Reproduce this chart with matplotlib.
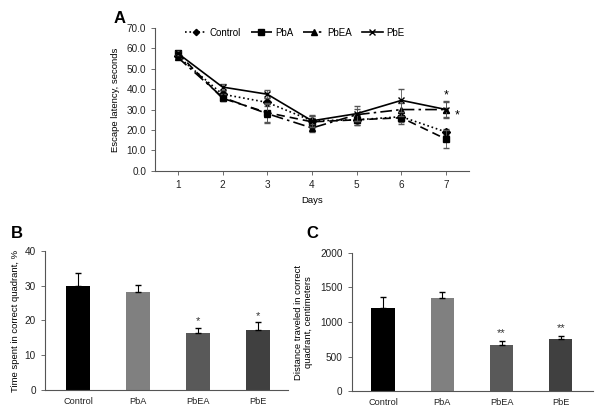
import matplotlib.pyplot as plt
import numpy as np

plt.rcParams['font.family'] = ['Liberation Sans', 'DejaVu Sans']

days = [1, 2, 3, 4, 5, 6, 7]
groups = ['Control', 'PbA', 'PbEA', 'PbE']

# escape latency (s) per day
latency = {
    'Control': [56.0, 37.5, 33.5, 24.5, 25.0, 26.5, 19.0],
    'PbA': [57.5, 35.5, 28.5, 24.0, 25.0, 26.0, 15.5],
    'PbEA': [55.5, 36.0, 28.0, 21.0, 27.5, 30.0, 30.0],
    'PbE': [57.5, 41.0, 37.5, 24.5, 28.0, 34.5, 30.0],
}
latency_err = {
    'Control': [1.0, 1.5, 2.0, 2.5, 2.5, 2.5, 1.5],
    'PbA': [1.0, 1.5, 4.5, 3.0, 2.5, 3.0, 4.5],
    'PbEA': [1.0, 1.5, 4.5, 2.0, 3.0, 3.0, 3.5],
    'PbE': [1.0, 1.5, 2.0, 3.0, 3.5, 5.5, 4.0],
}

time_quadrant = [29.9, 28.1, 16.4, 17.2]
time_err = [3.8, 2.1, 1.4, 2.3]

distance = [1211, 1351, 673, 750]
distance_err = [145, 82, 53, 53]

bar_colors = ['#000000', '#808080', '#595959', '#404040']

styles = {
    'Control': dict(linestyle=':', marker='D', markersize=4),
    'PbA': dict(linestyle=(0, (5, 3)), marker='s', markersize=5),
    'PbEA': dict(linestyle=(0, (7, 2.5, 1.5, 2.5)), marker='^', markersize=5),
    'PbE': dict(linestyle='-', marker='x', markersize=5),
}

fig = plt.figure(figsize=(6, 4.2), dpi=100)

# panel A
axA = fig.add_axes([0.259, 0.593, 0.522, 0.341])
handles = []
for g in groups:
    axA.errorbar(days, latency[g], yerr=latency_err[g], fmt='none',
                 ecolor='#555555', elinewidth=0.6, capsize=2)
    line, = axA.plot(days, latency[g], color='black', linewidth=1.2, label=g, **styles[g])
    handles.append(line)
axA.text(7, 37.0, '*', ha='center', va='center', fontsize=9)
axA.text(7.25, 27.0, '*', ha='center', va='center', fontsize=9)
axA.set_xlim(0.5, 7.5)
axA.set_ylim(0, 70)
axA.set_xticks(days)
axA.set_yticks(np.arange(0, 71, 10))
axA.yaxis.set_major_formatter(plt.FuncFormatter(lambda y, _: '{:.1f}'.format(y)))
axA.set_xlabel('Days', fontsize=6.8)
axA.set_ylabel('Escape latency, seconds', fontsize=6.8)
axA.yaxis.set_label_coords(-0.113, 0.5)
axA.legend(handles=handles, loc='upper center', bbox_to_anchor=(0.445, 1.06), ncol=4,
           frameon=False, fontsize=7, handlelength=2.2, handletextpad=0.3,
           columnspacing=1.0, markerscale=0.8)
fig.text(0.19, 0.955, 'A', fontsize=12, fontweight='bold', ha='left', va='center')

# panel B
axB = fig.add_axes([0.075, 0.071, 0.405, 0.332])
x = np.arange(len(groups))
axB.bar(x, time_quadrant, width=0.39, color=bar_colors)
axB.errorbar(x, time_quadrant, yerr=[np.zeros(4), time_err], fmt='none',
             ecolor='black', elinewidth=0.8, capsize=2)
axB.text(2, 19.9, '*', ha='center', va='center', fontsize=8, color='#333333')
axB.text(3, 21.4, '*', ha='center', va='center', fontsize=8, color='#333333')
axB.set_xlim(-0.55, 3.5)
axB.set_ylim(0, 40)
axB.set_yticks([0, 10, 20, 30, 40])
axB.set_xticks(x)
axB.set_xticklabels(groups)
axB.set_ylabel('Time spent in correct quadrant, %', fontsize=6.8)
axB.yaxis.set_label_coords(-0.103, 0.5)
fig.text(0.018, 0.445, 'B', fontsize=12, fontweight='bold', ha='left', va='center')

# panel C
axC = fig.add_axes([0.586, 0.068, 0.402, 0.33])
axC.bar(x, distance, width=0.39, color=bar_colors)
axC.errorbar(x, distance, yerr=[np.zeros(4), distance_err], fmt='none',
             ecolor='black', elinewidth=0.8, capsize=2)
axC.text(2, 836, '**', ha='center', va='center', fontsize=8, color='#333333')
axC.text(3, 909, '**', ha='center', va='center', fontsize=8, color='#333333')
axC.set_xlim(-0.53, 3.54)
axC.set_ylim(0, 2000)
axC.set_yticks([0, 500, 1000, 1500, 2000])
axC.set_xticks(x)
axC.set_xticklabels(groups)
axC.set_ylabel('Distance traveled in correct\nquadrant, centimeters', fontsize=6.8)
axC.yaxis.set_label_coords(-0.16, 0.5)
fig.text(0.51, 0.445, 'C', fontsize=12, fontweight='bold', ha='left', va='center')

for ax in (axA, axB, axC):
    ax.spines['top'].set_visible(False)
    ax.spines['right'].set_visible(False)
    ax.spines['left'].set_color('#555555')
    ax.spines['bottom'].set_color('#555555')
    ax.tick_params(labelsize=7.2, width=0.6, length=3, colors='#555555', labelcolor='#222222')

for ax in (axB, axC):
    ax.tick_params(axis='x', length=0, pad=5, labelsize=6.6)

fig.savefig('out.png', dpi=100)
